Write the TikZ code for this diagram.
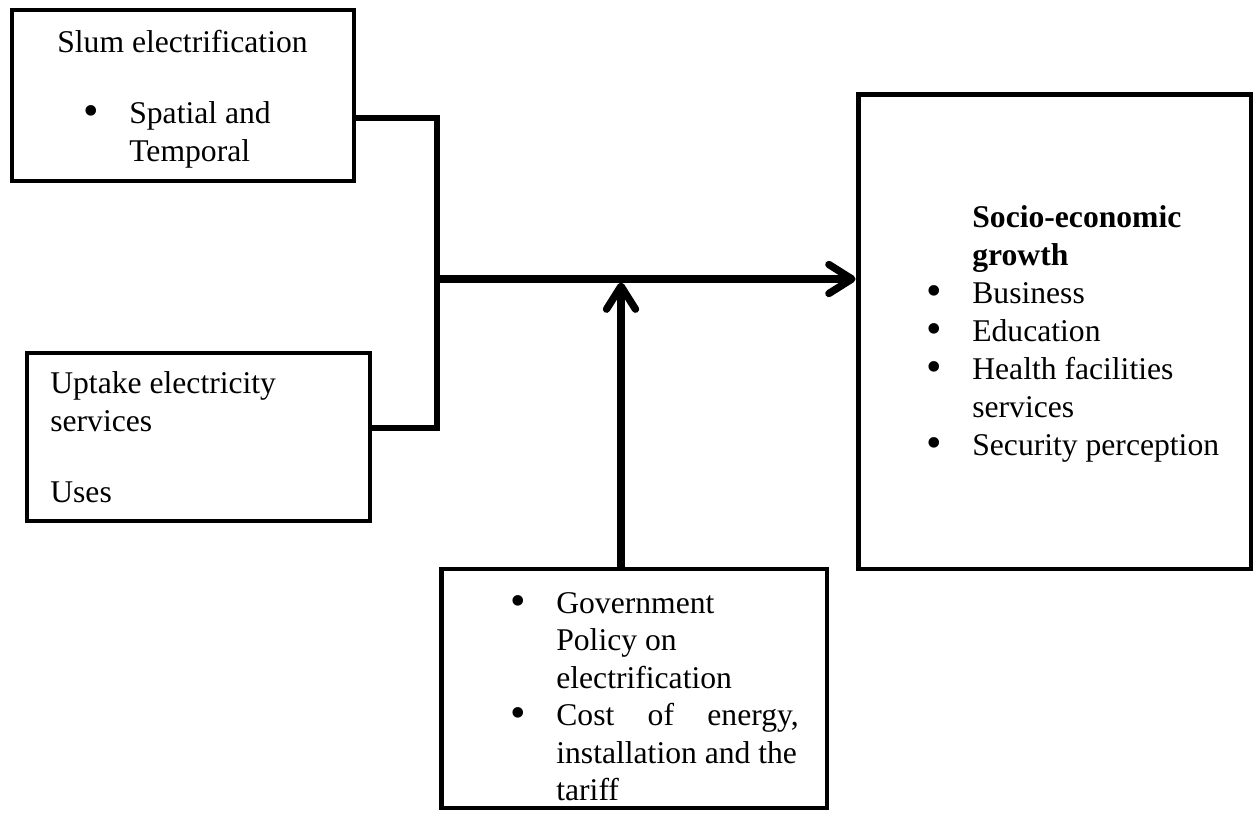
\documentclass[tikz,border=0pt]{standalone}
\usepackage{fontspec}
\setmainfont{Liberation Serif}
\usepackage{tikz}
\usetikzlibrary{arrows.meta}
\newcommand{\itemdot}{\makebox[0.92cm][l]{\raisebox{-0.07em}{\scalebox{1.4}{\textbullet}}}}

\begin{document}
\begin{tikzpicture}[
    x=0.02cm, y=-0.02cm,
    box/.style={draw, line width=2.8pt, inner sep=0pt},
    txt/.style={anchor=north west, inner sep=0pt, align=left, font=\fontsize{18}{21.6}\selectfont},
    link/.style={line width=3.1pt},
    arrow/.style={line width=4.2pt, -{Straight Barb[length=4.6mm, width=5.8mm, round]}},
]
    \useasboundingbox (0,0) rectangle (1254,812);

    \node[box, minimum width=6.84cm, minimum height=3.42cm] (slum) at (183,95.5) {};
    \node[box, minimum width=6.86cm, minimum height=3.36cm] (uptake) at (198.5,437) {};
    \node[box, minimum width=7.86cm, minimum height=9.5cm] (growth) at (1054.5,331.5) {};
    \node[box, minimum width=7.72cm, minimum height=4.78cm] (policy) at (634,688.5) {};

    \node[txt] (slum_title) at (57,29.5) {\rule{0pt}{0.45cm}Slum electrification};
    \node[txt] (slum_list) at (83,100.5) {\rule{0pt}{0.45cm}\itemdot Spatial and\\\hspace*{0.92cm}Temporal};
    \node[txt] (uptake_text) at (50,370.5) {\rule{0pt}{0.45cm}Uptake electricity\\services\\[0.67cm]Uses};
    \node[txt] (growth_list) at (926,204.5) {\rule{0pt}{0.45cm}\hspace*{0.92cm}\textbf{Socio-economic}\\
        \hspace*{0.92cm}\textbf{growth}\\
        \itemdot Business\\
        \itemdot Education\\
        \itemdot Health facilities\\
        \hspace*{0.92cm}services\\
        \itemdot Security perception};
    \node[txt, font=\fontsize{18}{21.3}\selectfont] (policy_list) at (510,590.5) {\rule{0pt}{0.45cm}\itemdot Government\\
        \hspace*{0.92cm}Policy on\\
        \hspace*{0.92cm}electrification\\
        \itemdot\makebox[4.85cm][s]{Cost of energy,}\\
        \hspace*{0.92cm}installation and the\\
        \hspace*{0.92cm}tariff};

    \coordinate (join) at (437,279);
    \coordinate (policy_top) at ([xshift=-0.26cm]policy.north);

    \draw[link] ([yshift=-0.45cm]slum.east) -| (join) |- ([yshift=0.18cm]uptake.east);
    \draw[arrow] (join) -- (join -| growth.west);
    \draw[arrow, shorten >=2pt] (policy_top) -- (policy_top |- join);
\end{tikzpicture}
\end{document}
